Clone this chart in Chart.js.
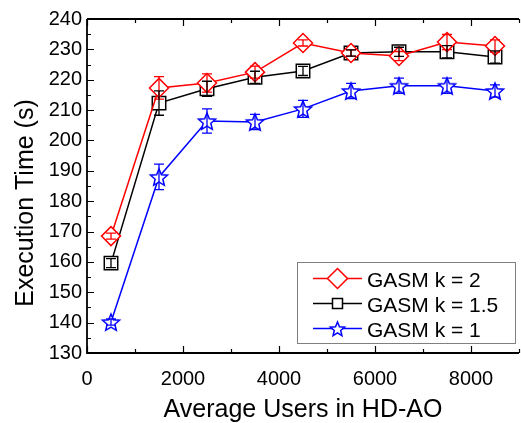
<!DOCTYPE html>
<html>
<head>
<meta charset="utf-8">
<script src="https://cdn.jsdelivr.net/npm/chart.js@4.4.0/dist/chart.umd.min.js"></script>
<style>
  html, body { margin: 0; padding: 0; background: #fff; overflow: hidden; }
  #wrap { width: 530px; height: 423px; position: relative; }
</style>
</head>
<body>
<div id="wrap"><canvas id="grafico"></canvas></div>
<script>
// ------- datos -------
const usuarios = [500, 1500, 2500, 3500, 4500, 5500, 6500, 7500, 8500];

const tiempoK2  = [168.5, 217.3, 218.9, 222.5, 232.1, 228.8, 227.8, 232.4, 231.1];
const errorK2   = [1.0, 3.7, 3.0, 2.0, 1.0, 1.0, 1.5, 2.5, 2.0];

const tiempoK15 = [159.6, 212.3, 217.0, 220.8, 222.9, 228.8, 229.2, 229.2, 227.5];
const errorK15  = [1.5, 4.0, 2.5, 2.0, 1.5, 1.0, 1.5, 2.0, 2.0];

const tiempoK1  = [140.2, 188.0, 206.4, 206.1, 210.4, 216.3, 218.0, 218.0, 216.3];
const errorK1   = [1.0, 4.2, 4.0, 2.5, 2.8, 2.5, 2.5, 2.5, 2.0];

const etiquetas = ['GASM k = 2', 'GASM k = 1.5', 'GASM k = 1'];
const ticksX = [0, 2000, 4000, 6000, 8000];
const FUENTE = 'Arial, "Liberation Sans", sans-serif';

// ------- estrella hueca como pointStyle -------
function crearEstrella(r, color) {
  const c = document.createElement('canvas');
  const s = Math.ceil(r * 2 + 4);
  c.width = s; c.height = s;
  const g = c.getContext('2d');
  g.beginPath();
  for (let i = 0; i < 10; i++) {
    const rad = i % 2 === 0 ? r : r * 0.45;
    const a = -Math.PI / 2 + i * Math.PI / 5;
    const px = s / 2 + rad * Math.cos(a), py = s / 2 + 1 + rad * Math.sin(a);
    if (i === 0) g.moveTo(px, py); else g.lineTo(px, py);
  }
  g.closePath();
  g.fillStyle = '#fff'; g.fill();
  g.strokeStyle = color; g.lineWidth = 1.5; g.stroke();
  return c;
}
const estrella = crearEstrella(9, '#0000ff');
const estrellaLeyenda = crearEstrella(7.5, '#0000ff');

const puntos = (ys) => usuarios.map((x, i) => ({ x: x, y: ys[i] }));
const errores = [errorK2, errorK15, errorK1];

// ------- ejes, ticks hacia adentro, barras de error, leyenda y titulos -------
const pluginFigura = {
  id: 'figura',
  afterDatasetsDraw(chart) {
    const ctx = chart.ctx;
    const xs = chart.scales.x, ys = chart.scales.y;
    const a = chart.chartArea;

    // barras de error
    chart.data.datasets.forEach((ds, i) => {
      ctx.save();
      ctx.strokeStyle = ds.borderColor;
      ctx.lineWidth = 1.3;
      ds.data.forEach((p, j) => {
        const px = xs.getPixelForValue(p.x);
        const yt = ys.getPixelForValue(p.y + errores[i][j]);
        const yb = ys.getPixelForValue(p.y - errores[i][j]);
        ctx.beginPath();
        ctx.moveTo(px, yt); ctx.lineTo(px, yb);
        ctx.moveTo(px - 5, yt); ctx.lineTo(px + 5, yt);
        ctx.moveTo(px - 5, yb); ctx.lineTo(px + 5, yb);
        ctx.stroke();
      });
      ctx.restore();
    });

    // ejes
    ctx.save();
    ctx.strokeStyle = '#000';
    ctx.lineWidth = 1.8;
    ctx.beginPath();
    ctx.moveTo(a.left, a.top); ctx.lineTo(a.right, a.top);
    ctx.moveTo(a.left, a.top); ctx.lineTo(a.left, a.bottom);
    ctx.lineTo(a.right, a.bottom);
    ctx.stroke();

    ctx.lineWidth = 1.2;
    ctx.beginPath();
    for (let v = 0; v <= 9000; v += 1000) {
      const px = Math.round(xs.getPixelForValue(v)) + 0.5;
      const len = v % 2000 === 0 ? 7 : 4;
      ctx.moveTo(px, a.bottom); ctx.lineTo(px, a.bottom - len);
      ctx.moveTo(px, a.top); ctx.lineTo(px, a.top + len);
    }
    for (let v = 130; v <= 240; v += 5) {
      const py = Math.round(ys.getPixelForValue(v)) + 0.5;
      const len = v % 10 === 0 ? 7 : 4;
      ctx.moveTo(a.left, py); ctx.lineTo(a.left + len, py);
    }
    ctx.stroke();
    ctx.restore();

    // leyenda
    ctx.save();
    ctx.fillStyle = '#fff';
    ctx.fillRect(297, 262, 218, 81);
    ctx.strokeStyle = '#808080';
    ctx.lineWidth = 1;
    ctx.strokeRect(297.5, 262.5, 218, 81);
    ctx.font = '21px ' + FUENTE;
    ctx.textBaseline = 'alphabetic';
    chart.data.datasets.forEach((ds, i) => {
      const cy = 278.5 + i * 25;
      ctx.strokeStyle = ds.borderColor;
      ctx.lineWidth = 1.5;
      ctx.beginPath();
      ctx.moveTo(313, cy); ctx.lineTo(362, cy);
      ctx.stroke();
      const mx = 337.5;
      if (i === 0) {
        ctx.beginPath();
        ctx.moveTo(mx, cy - 10); ctx.lineTo(mx + 10, cy);
        ctx.lineTo(mx, cy + 10); ctx.lineTo(mx - 10, cy);
        ctx.closePath();
        ctx.fillStyle = '#fff'; ctx.fill(); ctx.stroke();
      } else if (i === 1) {
        ctx.fillStyle = '#fff';
        ctx.fillRect(mx - 5, cy - 5, 10, 10);
        ctx.strokeRect(mx - 5, cy - 5, 10, 10);
      } else {
        ctx.drawImage(estrellaLeyenda, mx - estrellaLeyenda.width / 2, cy - estrellaLeyenda.height / 2);
      }
      ctx.fillStyle = '#000';
      ctx.fillText(ds.label, 367, cy + 8.5);
    });
    ctx.restore();

    // titulos de ejes
    ctx.save();
    ctx.fillStyle = '#000';
    ctx.font = '25px ' + FUENTE;
    ctx.textAlign = 'center';
    ctx.textBaseline = 'alphabetic';
    ctx.fillText('Average Users in HD-AO', (a.left + a.right) / 2, 417);
    ctx.translate(33, 203);
    ctx.rotate(-Math.PI / 2);
    ctx.fillText('Execution Time (s)', 0, 0);
    ctx.restore();
  }
};

new Chart(document.getElementById('grafico'), {
  type: 'line',
  data: {
    datasets: [
      {
        label: etiquetas[0],
        data: puntos(tiempoK2),
        borderColor: '#ff0000',
        borderWidth: 1.5,
        pointStyle: 'rectRot',
        pointRadius: 9.5,
        pointHoverRadius: 9.5,
        pointBackgroundColor: '#fff',
        pointBorderColor: '#ff0000',
        pointBorderWidth: 1.5
      },
      {
        label: etiquetas[1],
        data: puntos(tiempoK15),
        borderColor: '#000000',
        borderWidth: 1.5,
        pointStyle: 'rect',
        pointRadius: 9.5,
        pointHoverRadius: 9.5,
        pointBackgroundColor: '#fff',
        pointBorderColor: '#000000',
        pointBorderWidth: 1.5
      },
      {
        label: etiquetas[2],
        data: puntos(tiempoK1),
        borderColor: '#0000ff',
        borderWidth: 1.5,
        pointStyle: estrella,
        pointRadius: 9,
        pointHoverRadius: 9,
        pointBackgroundColor: '#fff',
        pointBorderColor: '#0000ff'
      }
    ]
  },
  options: {
    responsive: true,
    maintainAspectRatio: false,
    animation: false,
    layout: { padding: { top: 19, right: 1, left: 0, bottom: 0 } },
    plugins: {
      legend: { display: false },
      tooltip: { enabled: false }
    },
    scales: {
      x: {
        type: 'linear',
        min: 0,
        max: 9000,
        grid: { display: false, drawTicks: false },
        border: { display: false },
        afterBuildTicks: s => { s.ticks = ticksX.map(v => ({ value: v })); },
        afterFit: s => { s.height = 70; },
        ticks: {
          padding: 14,
          maxRotation: 0,
          color: '#000',
          font: { family: FUENTE, size: 20 },
          callback: v => String(v)
        }
      },
      y: {
        min: 130,
        max: 240,
        grid: { display: false, drawTicks: false },
        border: { display: false },
        afterFit: s => { s.width = 87; },
        ticks: {
          stepSize: 10,
          padding: 5,
          color: '#000',
          font: { family: FUENTE, size: 20 },
          callback: v => String(v)
        }
      }
    }
  },
  plugins: [pluginFigura]
});
</script>
</body>
</html>
